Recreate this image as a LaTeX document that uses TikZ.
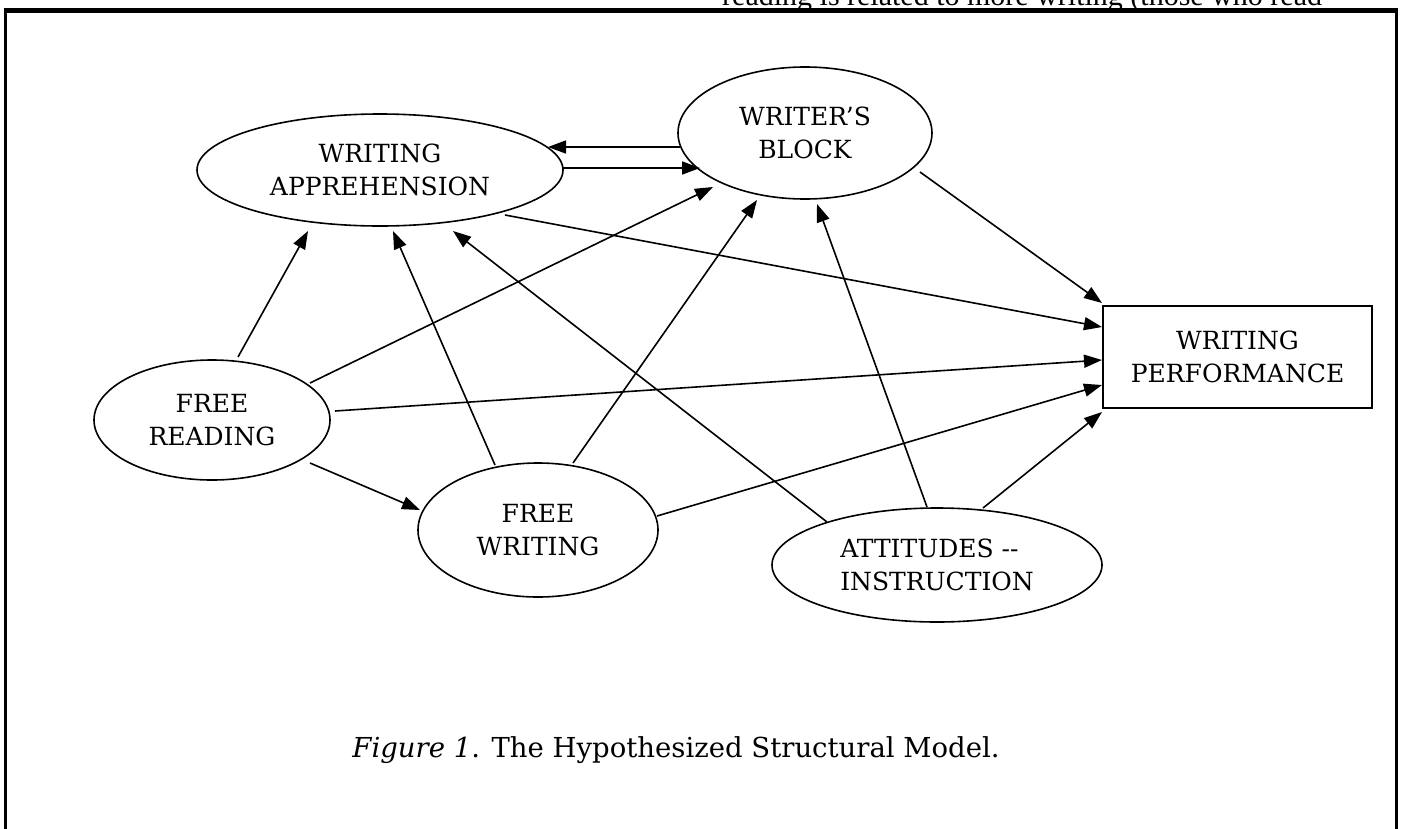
\documentclass[tikz,border=0pt]{standalone}
\usepackage{fontspec}
\setmainfont{DejaVu Serif}
\newfontfamily\timesfont{Liberation Serif}
\usetikzlibrary{shapes.geometric,arrows.meta,calc}
\tikzset{
  latent/.style={draw, line width=1.6pt, ellipse, inner sep=0pt, align=center,
    font=\fontsize{25}{33}\selectfont},
  observed/.style={draw, line width=1.6pt, rectangle, inner sep=0pt, align=center,
    font=\fontsize{25}{33}\selectfont},
  path/.style={line width=1.6pt, -{Triangle[length=18pt,width=13pt]}},
  frameline/.style={line width=3pt}
}
\begin{document}
\begin{tikzpicture}[x=1pt,y=-1pt]
\useasboundingbox (0,0) rectangle (1401,828);
% frame
\draw[frameline] (5,830) -- (5,10.3) -- (1396,10.3) -- (1396,830);
\draw[line width=4.5pt] (3.5,10.3) -- (1397.5,10.3);
% cut-off text above
\node[anchor=base west, inner sep=0pt, font=\timesfont\fontsize{30}{36}\selectfont] (toptext) at (722,5) {reading is related to more writing (those who read};
% nodes
\node[latent, minimum width=366pt, minimum height=112pt] (wa) at (380,170) {WRITING\\APPREHENSION};
\node[latent, minimum width=254pt, minimum height=132pt] (wb) at (805,133) {WRITER’S\\BLOCK};
\node[latent, minimum width=236pt, minimum height=120pt] (fr) at (212,420) {FREE\\READING};
\node[latent, minimum width=240pt, minimum height=134pt] (fw) at (538,530) {FREE\\WRITING};
\node[latent, minimum width=330pt, minimum height=114pt, align=left] (ai) at (937,565) {ATTITUDES -{}-\\INSTRUCTION};
\node[observed, minimum width=269pt, minimum height=102pt] (wp) at (1237.5,357) {WRITING\\PERFORMANCE};
% caption
\node[anchor=base, inner sep=0pt, font=\fontsize{27.5}{32}\selectfont] (cap) at (676,757) {\textit{Figure 1}. The Hypothesized Structural Model.};
% connectors
\draw[path] ($(wb)+(-125,14)$) -- ($(wa)+(168,-23)$);
\draw[path] ($(wa)+(182,-2)$) -- ($(wb)+(-105,35)$);
\draw[path] ($(fr)+(26,-63)$) -- ($(wa)+(-72,61)$);
\draw[path] ($(fr)+(98,-37)$) -- ($(wb)+(-92,54)$);
\draw[path] ($(fr)+(123,-9)$) -- ($(wp)+(-135.5,3)$);
\draw[path] ($(fr)+(98,43)$) -- ($(fw)+(-118,-20)$);
\draw[path] ($(fw)+(-43,-65)$) -- ($(wa)+(13,61)$);
\draw[path] ($(fw)+(35,-67)$) -- ($(wb)+(-48,67)$);
\draw[path] ($(fw)+(119,-14)$) -- ($(wp)+(-135.5,28)$);
\draw[path] ($(ai)+(-110,-43)$) -- ($(wa)+(73,61)$);
\draw[path] ($(ai)+(-10,-58)$) -- ($(wb)+(12,71)$);
\draw[path] ($(ai)+(46,-57)$) -- ($(wp)+(-135.5,55)$);
\draw[path] ($(wb)+(115,39)$) -- ($(wp)+(-135.5,-54)$);
\draw[path] ($(wa)+(125,45)$) -- ($(wp)+(-135.5,-30)$);
\end{tikzpicture}
\end{document}
